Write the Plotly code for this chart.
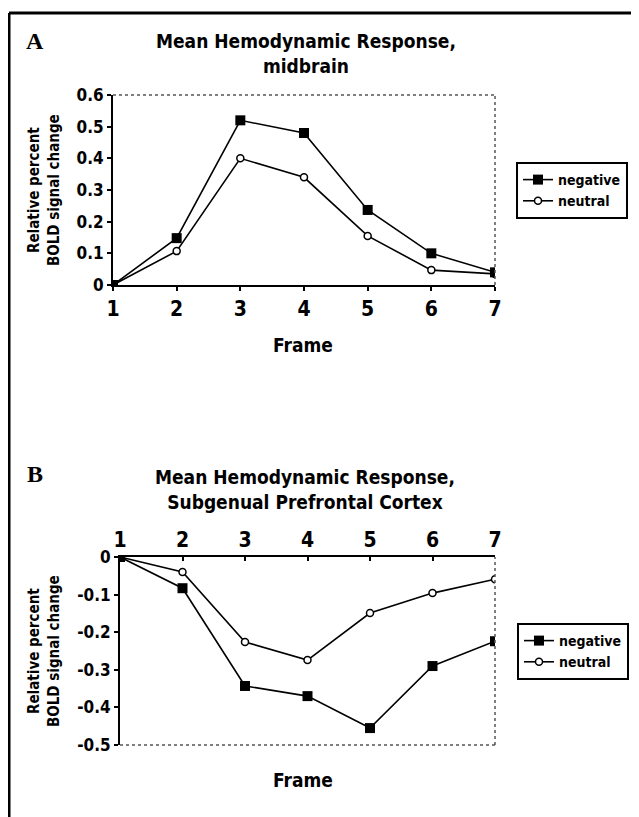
import plotly.graph_objects as go

frames = [1, 2, 3, 4, 5, 6, 7]
a_negative = [0.0, 0.148, 0.52, 0.48, 0.237, 0.10, 0.04]
a_neutral = [0.0, 0.107, 0.40, 0.34, 0.155, 0.047, 0.035]
b_negative = [0.0, -0.083, -0.343, -0.37, -0.455, -0.29, -0.224]
b_neutral = [0.0, -0.04, -0.226, -0.274, -0.149, -0.096, -0.059]
a_yticks = [0, 0.1, 0.2, 0.3, 0.4, 0.5, 0.6]
a_yticklabels = ["0", "0.1", "0.2", "0.3", "0.4", "0.5", "0.6"]
b_yticks = [0, -0.1, -0.2, -0.3, -0.4, -0.5]
b_yticklabels = ["0", "-0.1", "-0.2", "-0.3", "-0.4", "-0.5"]

OFF = 8  # page body margin
W, H = 639 - OFF, 817 - OFF
FONT = "DejaVu Sans Condensed, DejaVu Sans, sans-serif"

def px(x):
    return (x - OFF) / W

def py(y):
    return 1 - (y - OFF) / H

def f(size, family=FONT):
    return dict(family=family, size=size, color="black", weight=700)

fig = go.Figure()

neg_style = dict(mode="lines+markers", line=dict(color="black", width=1.6),
                 marker=dict(symbol="square", size=10, color="black"))
neu_style = dict(mode="lines+markers", line=dict(color="black", width=1.6),
                 marker=dict(symbol="circle", size=7, color="white",
                             line=dict(color="black", width=1.5)))

fig.add_trace(go.Scatter(x=frames, y=a_neutral, name="neutral", xaxis="x", yaxis="y",
                         legend="legend", **neu_style))
fig.add_trace(go.Scatter(x=frames, y=a_negative, name="negative", xaxis="x", yaxis="y",
                         legend="legend", **neg_style))
fig.add_trace(go.Scatter(x=frames, y=b_neutral, name="neutral", xaxis="x2", yaxis="y2",
                         legend="legend2", **neu_style))
fig.add_trace(go.Scatter(x=frames, y=b_negative, name="negative", xaxis="x2", yaxis="y2",
                         legend="legend2", **neg_style))

axis_common = dict(showgrid=False, zeroline=False, showline=True, linecolor="black",
                   linewidth=2, ticks="outside", tickcolor="black", ticklen=4, tickwidth=1.5)

fig.update_layout(
    width=W, height=H,
    margin=dict(l=0, r=0, t=0, b=0, autoexpand=False),
    paper_bgcolor="white", plot_bgcolor="white",
    xaxis=dict(domain=[px(113), px(495)], range=[1, 7], tickvals=frames,
               anchor="y", tickfont=f(21), **axis_common),
    yaxis=dict(domain=[py(285), py(95)], range=[0, 0.6], tickvals=a_yticks,
               ticktext=a_yticklabels, anchor="x", tickfont=f(17), **axis_common),
    xaxis2=dict(domain=[px(120), px(495)], range=[1, 7], tickvals=frames, side="top",
                anchor="y2", tickfont=f(21),
                **{**axis_common, "ticks": "inside"}),
    yaxis2=dict(domain=[py(745), py(557)], range=[-0.5, 0], tickvals=b_yticks,
                ticktext=b_yticklabels, anchor="x2", tickfont=f(17), **axis_common),
    legend=dict(x=px(516), y=py(162), xanchor="left", yanchor="top",
                bordercolor="black", borderwidth=2, bgcolor="white",
                traceorder="reversed", itemwidth=30, font=f(14)),
    legend2=dict(x=px(517), y=py(623), xanchor="left", yanchor="top",
                 bordercolor="black", borderwidth=2, bgcolor="white",
                 traceorder="reversed", itemwidth=30, font=f(14)),
    showlegend=True,
)

# frame lines (dotted grey) on the non-axis sides
for xr, yr, pts in [("x domain", "y domain", [(0, 1, 1, 1), (1, 0, 1, 1)]),
                    ("x2 domain", "y2 domain", [(0, 0, 1, 0), (1, 0, 1, 1)])]:
    for x0, y0, x1, y1 in pts:
        fig.add_shape(type="line", xref=xr, yref=yr, x0=x0, y0=y0, x1=x1, y1=y1,
                      line=dict(color="#555555", width=1.5, dash="dot"))

# outer border
fig.add_shape(type="line", xref="paper", yref="paper", x0=px(9), x1=px(9), y0=0, y1=py(13),
              line=dict(color="black", width=3))
fig.add_shape(type="line", xref="paper", yref="paper", x0=px(9), x1=1, y0=py(13), y1=py(13),
              line=dict(color="black", width=3))

titlefont = f(19)
lblfont = f(24, family="Liberation Serif, Times New Roman, serif")

def ann(text, x, y, font, angle=0):
    fig.add_annotation(text=text, x=px(x), y=py(y), xref="paper", yref="paper",
                       showarrow=False, xanchor="center", yanchor="middle",
                       textangle=angle, font=font, align="center")

ann("A", 35, 41, lblfont)
ann("B", 35, 474, lblfont)
ann("Mean Hemodynamic Response,<br>midbrain", 306, 54, titlefont)
ann("Mean Hemodynamic Response,<br>Subgenual Prefrontal Cortex", 305, 490, titlefont)
ann("Frame", 303, 345, titlefont)
ann("Frame", 303, 780, titlefont)
ann("Relative percent<br>BOLD signal change", 44, 190, f(15), -90)
ann("Relative percent<br>BOLD signal change", 44, 651, f(15), -90)

fig.write_html("out.html")
